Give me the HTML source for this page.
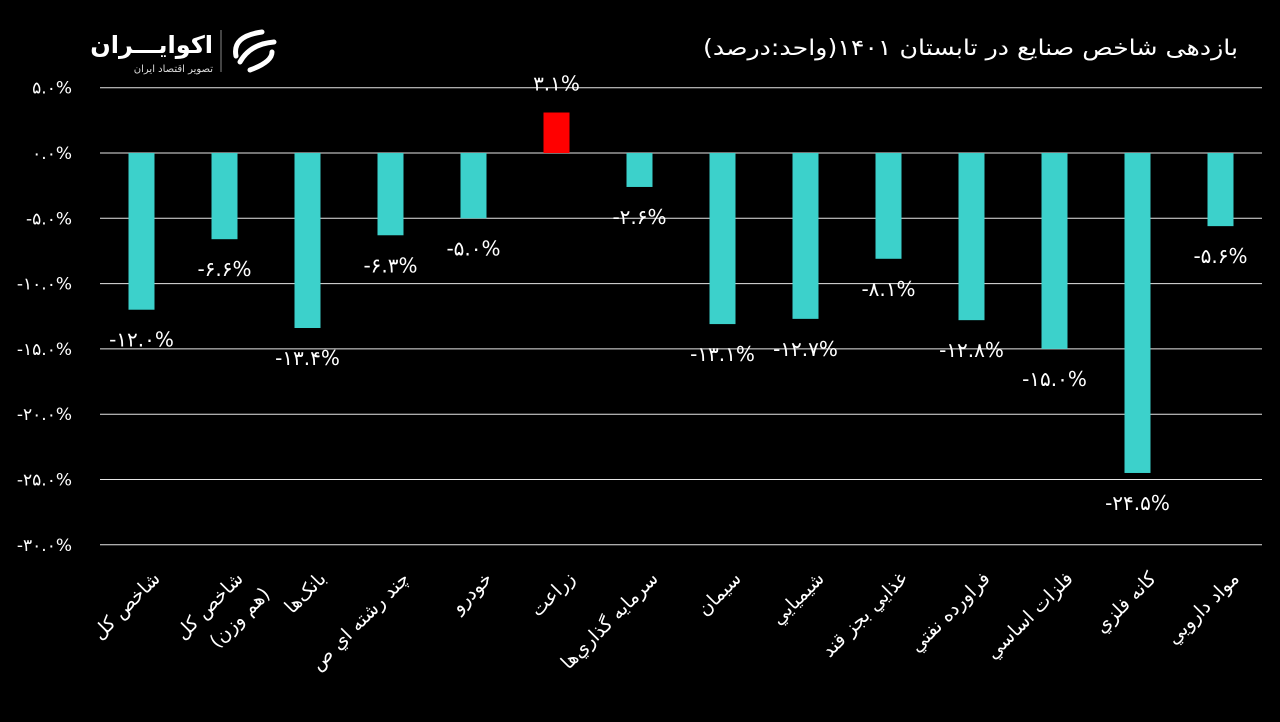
<!DOCTYPE html>
<html><head><meta charset="utf-8"><style>
html,body{margin:0;padding:0;background:#000;}
svg{display:block;font-family:"DejaVu Sans","Liberation Sans",sans-serif;}
</style></head><body>
<svg id="chart" width="1280" height="722" viewBox="0 0 1280 722" xmlns="http://www.w3.org/2000/svg">
<rect width="1280" height="722" fill="#000"/>
<text x="1238" y="55" fill="#fff" font-size="22" text-anchor="end" textLength="535" lengthAdjust="spacingAndGlyphs">بازدهی شاخص صنایع در تابستان ۱۴۰۱(واحد:درصد)</text>
<g>
<text x="213" y="53" fill="#fff" font-size="24" font-weight="bold" text-anchor="end">اکوایـــران</text>
<text x="213" y="72" fill="#ddd" font-size="10" text-anchor="end">تصویر اقتصاد ایران</text>
<line x1="221" y1="30" x2="221" y2="72" stroke="#888" stroke-width="1"/>
<g fill="none" stroke="#fff" stroke-width="5" stroke-linecap="round">
<path d="M236 56 Q232 36 262 32"/><path d="M240 62 Q250 44 274 42"/><path d="M250 70 Q272 62 272 52"/>
</g>
</g>
<g id="grid"></g>
<g id="yticks"></g>
<g id="bars"></g>
<g id="xlabels"></g>
</svg>
<script>
const categories=[["شاخص کل"],["شاخص کل","(هم وزن)"],["بانک‌ها"],["چند رشته اي ص"],["خودرو"],["زراعت"],["سرمايه گذاري‌ها"],["سيمان"],["شيميايي"],["غذايي بجز قند"],["فراورده نفتي"],["فلزات اساسي"],["کانه فلزي"],["مواد دارويي"]];
const values=[-12.0,-6.6,-13.4,-6.3,-5.0,3.1,-2.6,-13.1,-12.7,-8.1,-12.8,-15.0,-24.5,-5.6];
const yTicks=[5,0,-5,-10,-15,-20,-25,-30];
const NS="http://www.w3.org/2000/svg";
const x0=100,x1=1262,y0=153,pxPer=13.06;
const band=(x1-x0)/categories.length;
const xc=i=>x0+band*(i+0.5);
const y=v=>y0-v*pxPer;
const fa=s=>s.replace(/[0-9]/g,d=>"۰۱۲۳۴۵۶۷۸۹"[d]);
function mk(t,a,p){const e=document.createElementNS(NS,t);for(const k in a)e.setAttribute(k,a[k]);p.appendChild(e);return e;}
const grid=document.getElementById('grid'),yt=document.getElementById('yticks'),bars=document.getElementById('bars'),xl=document.getElementById('xlabels');
yTicks.forEach(t=>{
 const l=mk('line',{x1:x0,x2:x1,y1:y(t),y2:y(t),stroke:'#e6e6e6','stroke-width':1},grid);
 
 
 const tx=mk('text',{x:72,y:y(t)+6,fill:'#fff','font-size':17,'text-anchor':'end'},yt);
 tx.textContent=fa(t.toFixed(1))+"%";
 
 
});
const bw=26;
values.forEach((v,i)=>{
 const top=v>=0?y(v):y0,h=Math.abs(y(v)-y0);
 const r=mk('rect',{x:xc(i)-bw/2,y:top,width:bw,height:h,fill:v>=0?'#ff0000':'#3cd1cb'},bars);
 
 
 const ly=v>=0?y(v)-22:y(v)+37;
 const s=(v<0?'-':'')+fa(Math.abs(v).toFixed(1))+'%';
 const t=mk('text',{x:xc(i),y:ly,fill:'#fff','font-size':20,'text-anchor':'middle'},bars);
 t.textContent=s;
 
 
});
categories.forEach((c,i)=>{
 const ax=xc(i)+14,ay=574;
 const g=mk('g',{transform:`translate(${ax},${ay}) rotate(-45)`},xl);
 
 
 c.forEach((line,j)=>{
  const t=mk('text',{x:j*8,y:j*30+8,fill:'#fff','font-size':19,'text-anchor':'end'},g);
  t.textContent=line;
 });
});
</script>
</body></html>
